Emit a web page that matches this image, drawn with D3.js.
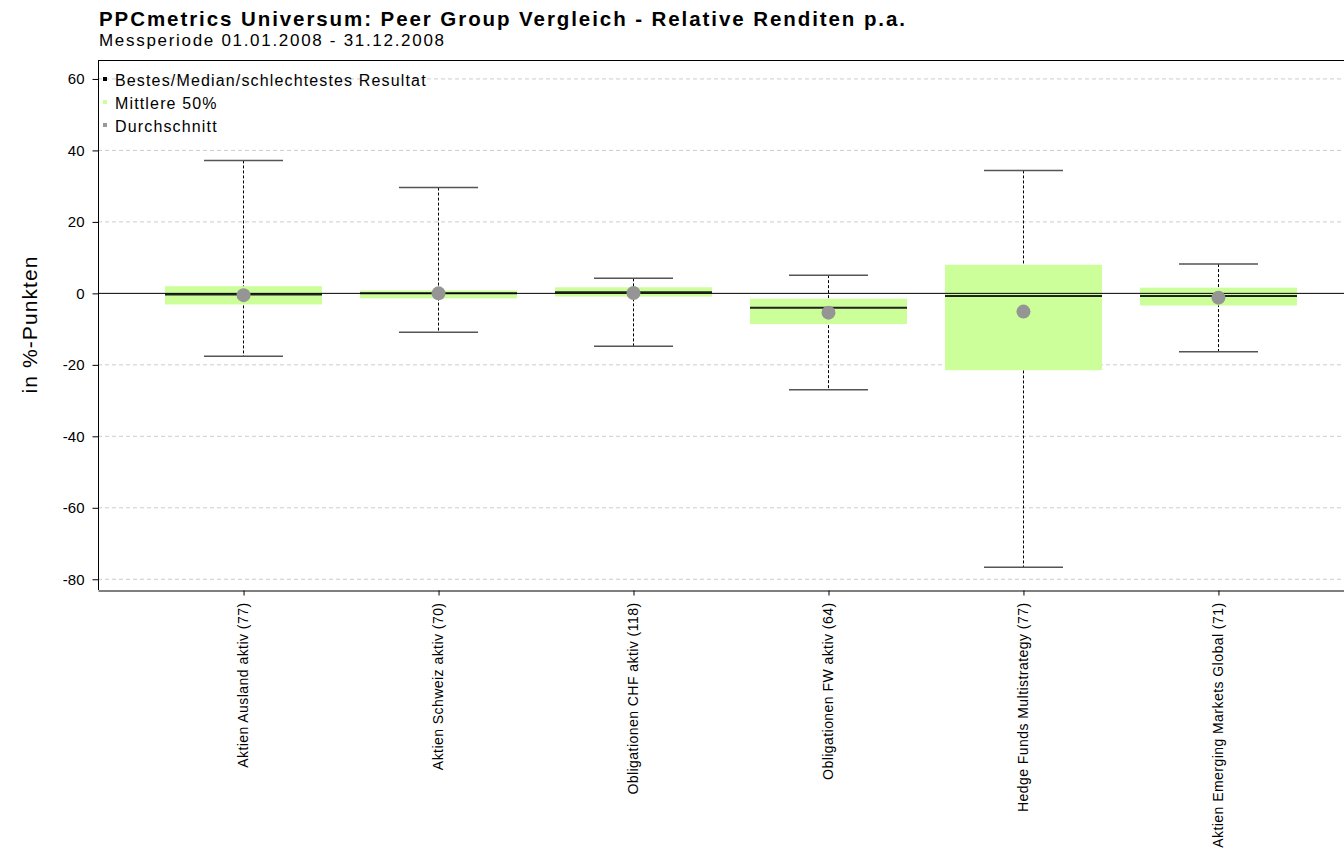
<!DOCTYPE html>
<html>
<head>
<meta charset="utf-8">
<script src="https://cdn.jsdelivr.net/npm/d3@7"></script>
<style>
  body { margin: 0; background: #fff; }
  svg { display: block; font-family: "Liberation Sans", Arial, sans-serif; }
  .grid line { stroke: #ccc; stroke-dasharray: 4,3; }
  .axis path, .axis line { stroke: #000; }
  .axis text { font-size: 15px; fill: #000; }
</style>
</head>
<body>
<svg id="chart" width="1344" height="849"></svg>
<script>
// Peer group relative returns 2008 (in %-points)
const categories = [
  "Aktien Ausland aktiv (77)",
  "Aktien Schweiz aktiv (70)",
  "Obligationen CHF aktiv (118)",
  "Obligationen FW aktiv (64)",
  "Hedge Funds Multistrategy (77)",
  "Aktien Emerging Markets Global (71)"
];
const best   = [37.2, 29.6, 4.2, 5.1, 34.4, 8.2];
const q3     = [2.0, 0.8, 1.7, -1.5, 8.0, 1.6];
const median = [-0.3, 0.0, 0.3, -4.0, -0.75, -0.75];
const q1     = [-3.1, -1.4, -0.9, -8.6, -21.5, -3.4];
const worst  = [-17.6, -10.9, -14.8, -27.0, -76.6, -16.3];
const mean   = [-0.5, 0.0, 0.1, -5.4, -5.1, -1.2];
const yTicks = [60, 40, 20, 0, -20, -40, -60, -80];

const rows = categories.map((c, i) => ({
  cat: c, best: best[i], q3: q3[i], median: median[i],
  q1: q1[i], worst: worst[i], mean: mean[i]
}));

const svg = d3.select("#chart");
const pLeft = 98, pRight = 1363, pTop = 60, pBottom = 590;

const x = d3.scalePoint().domain(categories).range([pLeft, pRight]).padding(0.744);
const y = d3.scaleLinear().domain([-83, 65.3]).range([pBottom, pTop]);

// titles
svg.append("text").attr("x", 99).attr("y", 26)
  .attr("textLength", 806).attr("lengthAdjust", "spacing")
  .style("font-size", "20.5px").style("font-weight", "bold")
  .text("PPCmetrics Universum: Peer Group Vergleich - Relative Renditen p.a.");
svg.append("text").attr("x", 99).attr("y", 46)
  .attr("textLength", 345).attr("lengthAdjust", "spacing")
  .style("font-size", "17px")
  .text("Messperiode 01.01.2008 - 31.12.2008");

// grid
svg.append("g").attr("class", "grid")
  .selectAll("line").data(yTicks.filter(d => d !== 0)).join("line")
  .attr("x1", pLeft).attr("x2", pRight)
  .attr("y1", d => y(d)).attr("y2", d => y(d));

// frame
svg.append("line").attr("x1", pLeft).attr("x2", pRight).attr("y1", pTop + 0.5).attr("y2", pTop + 0.5).attr("stroke", "#000");

// boxes
const g = svg.append("g");
const boxW = 157, capW = 79;

g.selectAll(".whisk").data(rows).join("g").each(function(d) {
  const s = d3.select(this), cx = Math.round(x(d.cat)) + 0.5;
  s.append("line").attr("x1", cx).attr("x2", cx).attr("y1", y(d.best)).attr("y2", y(d.worst))
    .attr("stroke", "#000").attr("stroke-dasharray", "3,2");
  s.append("line").attr("x1", cx - capW / 2).attr("x2", cx + capW / 2)
    .attr("y1", y(d.best)).attr("y2", y(d.best)).attr("stroke", "#555").attr("stroke-width", 1.5);
  s.append("line").attr("x1", cx - capW / 2).attr("x2", cx + capW / 2)
    .attr("y1", y(d.worst)).attr("y2", y(d.worst)).attr("stroke", "#555").attr("stroke-width", 1.5);
  s.append("rect").attr("x", cx - boxW / 2).attr("width", boxW)
    .attr("y", y(d.q3)).attr("height", y(d.q1) - y(d.q3)).attr("fill", "#ccff99");
  s.append("line").attr("x1", cx - boxW / 2).attr("x2", cx + boxW / 2)
    .attr("y1", y(d.median)).attr("y2", y(d.median)).attr("stroke", "#222").attr("stroke-width", 2);
});

// zero line
svg.append("line").attr("x1", pLeft).attr("x2", pRight).attr("y1", y(0)).attr("y2", y(0)).attr("stroke", "#000");

// means
svg.append("g").selectAll("circle").data(rows).join("circle")
  .attr("cx", d => x(d.cat) + 0.5).attr("cy", d => y(d.mean)).attr("r", 7).attr("fill", "#959595");

// y axis
svg.append("g").attr("class", "axis").attr("transform", `translate(${pLeft + 0.5},0)`)
  .call(d3.axisLeft(y).tickValues(yTicks).tickFormat(d => String(d)).tickSize(6).tickPadding(8).tickSizeOuter(0))
  .call(a => a.select(".domain").attr("d", `M0,${pTop}V${pBottom}`));

// x axis
const xa = svg.append("g").attr("class", "axis").attr("transform", `translate(0,${pBottom + 0.5})`)
  .call(d3.axisBottom(x).tickSize(5).tickSizeOuter(0));
xa.select(".domain").attr("stroke", "#999");
xa.selectAll(".tick line").attr("transform", "translate(0.5,0)");
xa.selectAll(".tick text")
  .attr("transform", "rotate(-90)")
  .attr("x", -12).attr("y", 0).attr("dy", "0.35em")
  .style("text-anchor", "end").style("font-size", "14px").style("letter-spacing", "0.45px");

// y label
svg.append("text").attr("transform", `translate(37,${(pTop + pBottom) / 2}) rotate(-90)`)
  .attr("text-anchor", "middle").attr("textLength", 137).attr("lengthAdjust", "spacing")
  .style("font-size", "21px").text("in %-Punkten");

// legend
const legend = [
  { label: "Bestes/Median/schlechtestes Resultat", color: "#000" },
  { label: "Mittlere 50%", color: "#ccff99" },
  { label: "Durchschnitt", color: "#999" }
];
const lg = svg.append("g").selectAll("g").data(legend).join("g")
  .attr("transform", (d, i) => `translate(103,${79 + i * 23})`);
lg.append("rect").attr("x", 0).attr("y", -2).attr("width", 4).attr("height", 4).attr("fill", d => d.color);
lg.append("text").attr("x", 12).attr("y", 7).style("font-size", "16px").style("letter-spacing", "1.15px").text(d => d.label);
</script>
</body>
</html>
